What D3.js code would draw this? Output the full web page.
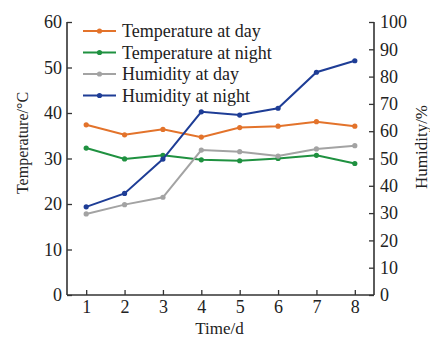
<!DOCTYPE html>
<html>
<head>
<meta charset="utf-8">
<script src="https://cdn.jsdelivr.net/npm/d3@7"></script>
<style>
  body { margin: 0; background: #fff; }
  text { font-family: "Liberation Serif", "Times New Roman", serif; fill: #222; }
</style>
</head>
<body>
<div id="chart"></div>
<script>
// data
const days = [1, 2, 3, 4, 5, 6, 7, 8];
const tempDay = [37.4, 35.2, 36.4, 34.7, 36.8, 37.1, 38.1, 37.1];
const tempNight = [32.3, 29.9, 30.7, 29.7, 29.5, 30.0, 30.7, 28.9];
const humDay = [29.7, 33.1, 35.8, 53.1, 52.5, 50.9, 53.5, 54.7];
const humNight = [32.3, 37.2, 49.8, 67.1, 65.9, 68.4, 81.6, 85.8];
const tempTicks = [0, 10, 20, 30, 40, 50, 60];
const humTicks = [0, 10, 20, 30, 40, 50, 60, 70, 80, 90, 100];

const series = [
    { name: "Temperature at day", values: tempDay, axis: "left", color: "#e3732b" },
    { name: "Temperature at night", values: tempNight, axis: "left", color: "#1f9140" },
    { name: "Humidity at day", values: humDay, axis: "right", color: "#a3a3a3" },
    { name: "Humidity at night", values: humNight, axis: "right", color: "#1e3d96" }
];

const W = 430, H = 338;
const margin = { top: 22, right: 56, bottom: 43, left: 67 };
const width = W - margin.left - margin.right;
const height = H - margin.top - margin.bottom;

const svg = d3.select("#chart")
    .append("svg")
    .attr("width", W)
    .attr("height", H)
    .append("g")
    .attr("transform", `translate(${margin.left},${margin.top})`);

// scales
const x = d3.scaleLinear().domain([0.5, 8.5]).range([0, width]);
const yT = d3.scaleLinear().domain([0, 60]).range([height, 0]);
const yH = d3.scaleLinear().domain([0, 100]).range([height, 0]);

// axes (ticks point inward)
const axisColor = "#333";
const xAxis = svg.append("g")
    .attr("transform", `translate(0,${height})`)
    .call(d3.axisBottom(x).tickValues(days).tickSize(-5).tickPadding(5).tickFormat(d3.format("d")));
const leftAxis = svg.append("g")
    .call(d3.axisLeft(yT).tickValues(tempTicks).tickSize(-5).tickPadding(5));
const rightAxis = svg.append("g")
    .attr("transform", `translate(${width},0)`)
    .call(d3.axisRight(yH).tickValues(humTicks).tickSize(-5).tickPadding(6));

[xAxis, leftAxis, rightAxis].forEach(g => {
    g.select(".domain").attr("stroke", axisColor).attr("stroke-width", 1.6);
    g.selectAll(".tick line").attr("stroke", axisColor).attr("stroke-width", 1.3);
    g.selectAll(".tick text")
        .attr("font-size", "18px")
        .attr("font-family", "Liberation Serif, serif")
        .attr("fill", "#222");
});
// domain paths without outer ticks
xAxis.select(".domain").attr("d", `M0,0H${width}`);
leftAxis.select(".domain").attr("d", `M0,${height}V0`);
rightAxis.select(".domain").attr("d", `M0,${height}V0`);

// lines
series.forEach(s => {
    const y = s.axis === "left" ? yT : yH;
    const pts = days.map((d, i) => ({ d, v: s.values[i] }));
    const line = d3.line().x(p => x(p.d)).y(p => y(p.v));
    svg.append("path")
        .datum(pts)
        .attr("fill", "none")
        .attr("stroke", s.color)
        .attr("stroke-width", 2)
        .attr("d", line);
    svg.selectAll(null)
        .data(pts)
        .enter().append("circle")
        .attr("cx", p => x(p.d))
        .attr("cy", p => y(p.v))
        .attr("r", 2.6)
        .attr("fill", s.color);
});

// axis labels
svg.append("text")
    .attr("transform", "rotate(-90)")
    .attr("x", -121)
    .attr("y", -39)
    .attr("text-anchor", "middle")
    .attr("font-size", "16px")
    .text("Temperature/°C");

svg.append("text")
    .attr("transform", "rotate(-90)")
    .attr("x", -125)
    .attr("y", width + 53)
    .attr("text-anchor", "middle")
    .attr("font-size", "17px")
    .text("Humidity/%");

svg.append("text")
    .attr("x", x(4.5) - 1)
    .attr("y", height + 39)
    .attr("text-anchor", "middle")
    .attr("font-size", "17px")
    .text("Time/d");

// legend
const legend = svg.append("g")
    .attr("transform", `translate(${16},${9})`);
series.forEach((s, i) => {
    const row = legend.append("g").attr("transform", `translate(0,${i * 21.5})`);
    row.append("line")
        .attr("x1", 0).attr("x2", 33)
        .attr("stroke", s.color)
        .attr("stroke-width", 2);
    row.append("circle")
        .attr("cx", 16.5)
        .attr("r", 2.6)
        .attr("fill", s.color);
    row.append("text")
        .attr("x", 39)
        .attr("y", 6)
        .attr("font-size", "18px")
        .text(s.name);
});
</script>
</body>
</html>
